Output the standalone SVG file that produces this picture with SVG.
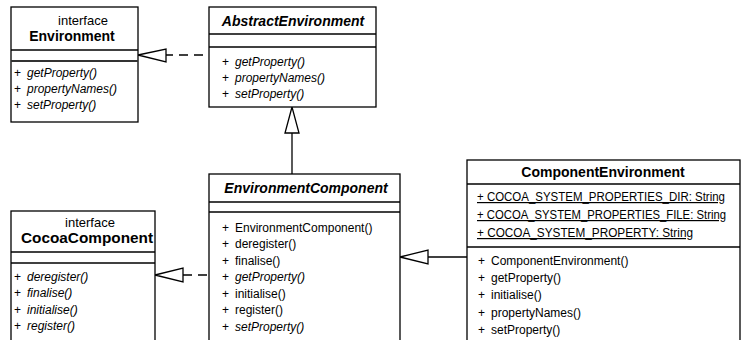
<svg xmlns="http://www.w3.org/2000/svg" width="742" height="340" viewBox="0 0 742 340">
  <style>
    .box { fill: #ffffff; stroke: #000000; stroke-width: 1.3; }
    .sep { stroke: #000000; stroke-width: 1.3; }
    .sep2 { stroke: #333333; stroke-width: 2; }
    text { font-family: "Liberation Sans", Arial, sans-serif; fill: #000000; }
    .name { font-size: 14px; font-weight: bold; text-anchor: middle; }
    .abstract { font-style: italic; }
    .stereo { font-size: 13px; text-anchor: middle; }
    .member { font-size: 12px; }
    .it { font-style: italic; }
    .static { text-decoration: underline; }
    .link { fill: none; stroke: #000000; stroke-width: 1.3; }
    .dash { stroke-dasharray: 9 6; }
    .head { fill: #ffffff; stroke: #000000; stroke-width: 1.3; }
  </style>

  <!-- relations -->
  <g id="connectors">
    <!-- AbstractEnvironment realizes Environment -->
    <line class="link dash" x1="166" y1="55" x2="209" y2="55" stroke-dashoffset="2"/>
    <polygon class="head" points="138,55 166,49 166,62"/>
    <!-- EnvironmentComponent extends AbstractEnvironment -->
    <line class="link" x1="292" y1="133" x2="292" y2="174"/>
    <polygon class="head" points="292,107 285,133 299,133"/>
    <!-- EnvironmentComponent realizes CocoaComponent -->
    <line class="link dash" x1="183" y1="275" x2="209" y2="275"/>
    <polygon class="head" points="155,275 183,268 183,282"/>
    <!-- ComponentEnvironment extends EnvironmentComponent -->
    <line class="link" x1="428" y1="257" x2="467" y2="257"/>
    <polygon class="head" points="400,257 428,250 428,264"/>
  </g>

  <g id="Environment">
    <rect class="box" x="11" y="7" width="127" height="115"/>
    <text class="stereo" x="83" y="25">interface</text>
    <text class="name" x="72" y="41">Environment</text>
    <line class="sep" x1="11" y1="50" x2="138" y2="50"/>
    <line class="sep2" x1="11" y1="61" x2="138" y2="61"/>
    <text class="member" x="14" y="77">+<tspan class="it" x="27">getProperty()</tspan></text>
    <text class="member" x="14" y="93">+<tspan class="it" x="27">propertyNames()</tspan></text>
    <text class="member" x="14" y="109">+<tspan class="it" x="27">setProperty()</tspan></text>
  </g>

  <g id="AbstractEnvironment">
    <rect class="box" x="209" y="7" width="167" height="100"/>
    <text class="name abstract" x="293" y="26">AbstractEnvironment</text>
    <line class="sep" x1="209" y1="34" x2="376" y2="34"/>
    <line class="sep" x1="209" y1="47" x2="376" y2="47"/>
    <text class="member" x="222" y="66">+<tspan class="it" x="235">getProperty()</tspan></text>
    <text class="member" x="222" y="82">+<tspan class="it" x="235">propertyNames()</tspan></text>
    <text class="member" x="222" y="98">+<tspan class="it" x="235">setProperty()</tspan></text>
  </g>

  <g id="CocoaComponent">
    <rect class="box" x="11" y="211" width="144" height="140"/>
    <text class="stereo" x="90" y="227">interface</text>
    <text class="name" x="87" y="243" textLength="132" lengthAdjust="spacingAndGlyphs">CocoaComponent</text>
    <line class="sep" x1="11" y1="252" x2="155" y2="252"/>
    <line class="sep" x1="11" y1="263" x2="155" y2="263"/>
    <text class="member" x="14" y="281">+<tspan class="it" x="27">deregister()</tspan></text>
    <text class="member" x="14" y="297">+<tspan class="it" x="27">finalise()</tspan></text>
    <text class="member" x="14" y="314">+<tspan class="it" x="27">initialise()</tspan></text>
    <text class="member" x="14" y="330">+<tspan class="it" x="27">register()</tspan></text>
  </g>

  <g id="EnvironmentComponent">
    <rect class="box" x="209" y="174" width="191" height="180"/>
    <text class="name abstract" x="306" y="193">EnvironmentComponent</text>
    <line class="sep" x1="209" y1="202" x2="400" y2="202"/>
    <line class="sep" x1="209" y1="212" x2="400" y2="212"/>
    <text class="member" x="222" y="232">+<tspan x="235">EnvironmentComponent()</tspan></text>
    <text class="member" x="222" y="248">+<tspan x="235">deregister()</tspan></text>
    <text class="member" x="222" y="265">+<tspan x="235">finalise()</tspan></text>
    <text class="member" x="222" y="281">+<tspan class="it" x="235">getProperty()</tspan></text>
    <text class="member" x="222" y="298">+<tspan x="235">initialise()</tspan></text>
    <text class="member" x="222" y="314">+<tspan x="235">register()</tspan></text>
    <text class="member" x="222" y="331">+<tspan class="it" x="235">setProperty()</tspan></text>
  </g>

  <g id="ComponentEnvironment">
    <rect class="box" x="467" y="160" width="273" height="190"/>
    <text class="name" x="603" y="177">ComponentEnvironment</text>
    <line class="sep" x1="467" y1="184" x2="740" y2="184"/>
    <text class="member static" x="477" y="201" textLength="248" lengthAdjust="spacingAndGlyphs">+ COCOA_SYSTEM_PROPERTIES_DIR: String</text>
    <text class="member static" x="477" y="219" textLength="249" lengthAdjust="spacingAndGlyphs">+ COCOA_SYSTEM_PROPERTIES_FILE: String</text>
    <text class="member static" x="477" y="237" textLength="216" lengthAdjust="spacingAndGlyphs">+ COCOA_SYSTEM_PROPERTY: String</text>
    <line class="sep" x1="467" y1="247" x2="740" y2="247"/>
    <text class="member" x="478" y="265">+<tspan x="491">ComponentEnvironment()</tspan></text>
    <text class="member" x="478" y="282">+<tspan x="491">getProperty()</tspan></text>
    <text class="member" x="478" y="299">+<tspan x="491">initialise()</tspan></text>
    <text class="member" x="478" y="317">+<tspan x="491">propertyNames()</tspan></text>
    <text class="member" x="478" y="334">+<tspan x="491">setProperty()</tspan></text>
  </g>
</svg>
